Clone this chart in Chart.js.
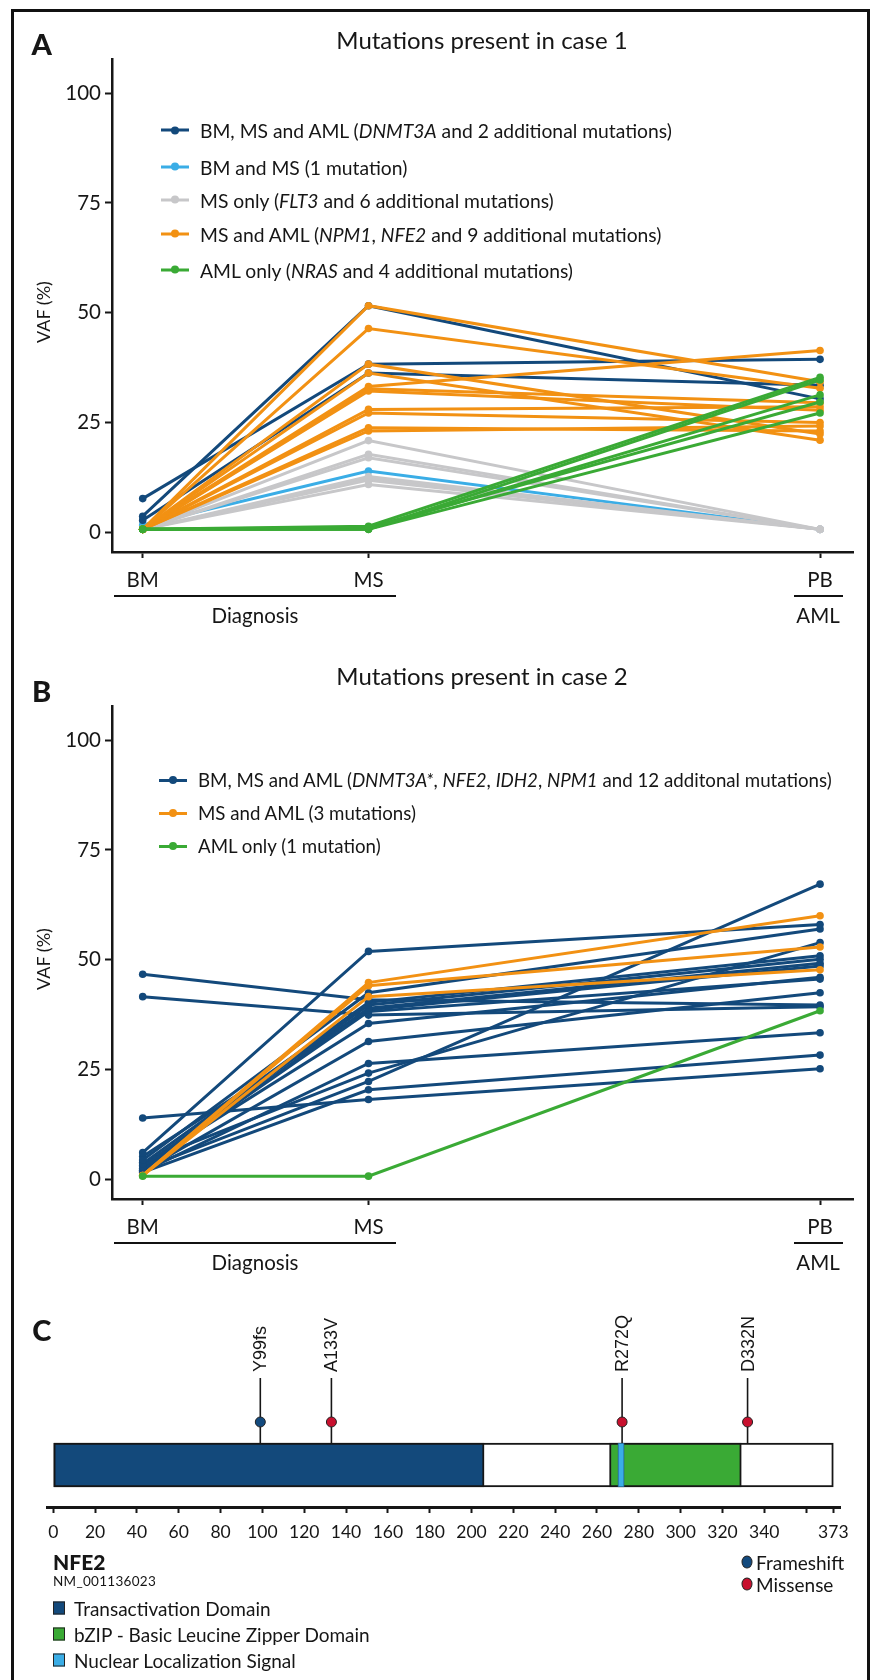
<!DOCTYPE html>
<html>
<head>
<meta charset="utf-8">
<script src="https://cdn.jsdelivr.net/npm/chart.js@4.4.1/dist/chart.umd.min.js"></script>
<style>
  body { margin: 0; background: #fff; }
  #page { position: relative; width: 871px; height: 1680px; overflow: hidden; font-family: Lato, "Noto Sans", sans-serif; color: #161616; }
  #frame { position: absolute; left: 11px; top: 9px; width: 853px; height: 1700px; border: 3px solid #111; }
  canvas { position: absolute; left: 0; }
  .t { position: absolute; white-space: nowrap; transform: translate(-50%, -50%); }
  .l { position: absolute; white-space: nowrap; transform: translateY(-50%); }
  .letter { font-weight: 900; font-size: 29px; }
  .title { font-size: 24px; }
  .vaf { font-size: 18px; transform: translate(-50%, -50%) rotate(-90deg); }
  .under { position: absolute; height: 1.6px; background: #111; }
  .axl { font-size: 20.5px; }
  .leg { position: absolute; display: flex; align-items: center; white-space: nowrap; transform: translateY(-50%); }
  .mk { position: relative; display: inline-block; width: 28px; height: 3px; margin-right: 11px; }
  .mk::after { content: ""; position: absolute; left: 10px; top: -2.5px; width: 8px; height: 8px; border-radius: 50%; background: inherit; }
  .sq { position: absolute; width: 10px; height: 11px; border: 1px solid #222; transform: translateY(-50%); }
  .dot { position: absolute; width: 9px; height: 11px; border-radius: 50%; border: 1px solid #222; transform: translate(-50%, -50%); }
</style>
</head>
<body>
<div id="page">
  <div id="frame"></div>
  <canvas id="chartA" width="871" height="647" style="top:0"></canvas>
  <canvas id="chartB" width="871" height="647" style="top:647px"></canvas>
  <canvas id="chartC" width="871" height="393" style="top:1287px"></canvas>
  <div id="overlay"></div>
</div>
<script>
// time points: BM and MS at diagnosis, PB at AML
const stageX = [0, 1, 3];
const stageLabels = ['BM', 'MS', 'PB'];
const vafTicks = [0, 25, 50, 75, 100];

// case 1, VAF (%) per mutation as [BM, MS, PB]
const case1BmMsAml = [[3.7, 51.6, 30.4], [7.7, 38.3, 39.4], [2.8, 36.3, 33.5]];
const case1BmMs = [[1.7, 14.0, 0.7]];
const case1MsOnly = [[0.7, 20.9, 0.7], [0.7, 17.8, 0.7], [0.7, 17.0, 0.7], [0.7, 12.7, 0.7],
                     [0.7, 12.2, 0.7], [0.7, 11.9, 0.7], [0.7, 10.9, 0.7]];
const case1MsAml = [[0.7, 51.6, 34.3], [0.7, 46.4, 32.8], [0.7, 38.3, 22.4], [0.7, 36.3, 21.0],
                    [0.7, 33.2, 41.4], [0.7, 32.7, 29.5], [0.7, 32.2, 27.8], [0.7, 28.0, 28.6],
                    [0.7, 27.2, 25.0], [0.7, 23.8, 23.1], [0.7, 23.1, 24.2]];
const case1AmlOnly = [[0.7, 1.4, 35.3], [0.7, 0.7, 34.7], [0.7, 0.8, 31.3], [0.7, 1.1, 29.7], [0.7, 0.7, 27.2]];
const case1Legend = [
  'BM, MS and AML (<i>DNMT3A</i> and 2 additional mutations)',
  'BM and MS (1 mutation)',
  'MS only (<i>FLT3</i> and 6 additional mutations)',
  'MS and AML (<i>NPM1</i>, <i>NFE2</i> and 9 additional mutations)',
  'AML only (<i>NRAS</i> and 4 additional mutations)'
];

// case 2, VAF (%) per mutation as [BM, MS, PB]
const case2BmMsAml = [[6.1, 51.9, 58.0], [4.4, 42.5, 57.0], [46.7, 40.9, 39.7], [3.6, 40.3, 50.9],
                      [2.9, 39.7, 50.1], [2.1, 39.0, 49.2], [5.2, 38.6, 48.6], [2.5, 38.2, 45.6],
                      [41.6, 37.4, 39.3], [3.2, 35.5, 46.0], [2.0, 31.4, 42.5], [1.8, 26.4, 33.4],
                      [3.9, 24.2, 53.9], [2.4, 22.3, 67.2], [1.6, 20.4, 28.3], [14.0, 18.2, 25.2]];
const case2MsAml = [[0.9, 44.8, 60.0], [0.9, 44.1, 52.9], [0.9, 41.6, 47.7]];
const case2AmlOnly = [[0.75, 0.75, 38.4]];
const case2Legend = [
  'BM, MS and AML (<i>DNMT3A*</i>, <i>NFE2</i>, <i>IDH2</i>, <i>NPM1</i> and 12 additonal mutations)',
  'MS and AML (3 mutations)',
  'AML only (1 mutation)'
];

// NFE2 protein (NM_001136023)
const proteinLength = 373;
const domainNames = ['Transactivation Domain', 'bZIP - Basic Leucine Zipper Domain', 'Nuclear Localization Signal'];
const domainStart = [0, 266, 270];
const domainEnd = [206, 329, 273];
const mutationNames = ['Y99fs', 'A133V', 'R272Q', 'D332N'];
const mutationPos = [99, 133, 272, 332];
const mutationKind = ['Frameshift', 'Missense', 'Missense', 'Missense'];
const kindNames = ['Frameshift', 'Missense'];
const residueTicks = [0, 20, 40, 60, 80, 100, 120, 140, 160, 180, 200, 220, 240, 260, 280, 300, 320, 340, 360, 373];

const DARK = '#13497b', LIGHT = '#3aade6', GREY = '#c7c7c9', ORANGE = '#f29113', GREEN = '#3aaa35';
const INK = '#161616';
const domainColors = [DARK, GREEN, LIGHT];
const kindColors = { Frameshift: '#134a7e', Missense: '#c8102e' };

Chart.defaults.font.family = 'Lato';
Chart.defaults.color = INK;
Chart.defaults.animation = false;

function lines(rows, color) {
  return rows.map(r => ({
    data: r.map((v, i) => ({ x: stageX[i], y: v })),
    borderColor: color,
    backgroundColor: color,
    pointBackgroundColor: color,
    pointBorderWidth: 0,
    pointRadius: 3.8,
    borderWidth: 3,
    tension: 0
  }));
}

function vafChart(id, datasets) {
  const H = 647;
  return new Chart(document.getElementById(id), {
    type: 'line',
    data: { datasets: datasets },
    options: {
      responsive: false,
      devicePixelRatio: 1,
      layout: { padding: { top: 59, right: 18, left: 0, bottom: 0 } },
      plugins: { legend: { display: false }, tooltip: { enabled: false } },
      scales: {
        x: {
          type: 'linear', min: -0.136, max: 3.146,
          afterBuildTicks: s => { s.ticks = stageX.map(v => ({ value: v })); },
          afterFit: s => { s.height = H - 552; },
          ticks: { callback: v => stageLabels[stageX.indexOf(v)], font: { size: 20.5 }, color: INK, padding: 10, autoSkip: false, maxRotation: 0 },
          grid: { drawOnChartArea: false, drawTicks: true, tickLength: 6, tickColor: INK, tickWidth: 2 },
          border: { display: true, color: INK, width: 2.5 }
        },
        y: {
          type: 'linear', min: -4.45, max: 107.75,
          afterBuildTicks: s => { s.ticks = vafTicks.map(v => ({ value: v })); },
          afterFit: s => { s.width = 112; },
          ticks: { font: { size: 20.5 }, color: INK, padding: 4 },
          grid: { drawOnChartArea: false, drawTicks: true, tickLength: 7, tickColor: INK, tickWidth: 2 },
          border: { display: true, color: INK, width: 2.5 }
        }
      }
    }
  });
}

vafChart('chartA', [].concat(
  lines(case1AmlOnly, GREEN), lines(case1MsAml, ORANGE), lines(case1BmMsAml, DARK),
  lines(case1MsOnly, GREY), lines(case1BmMs, LIGHT)));

vafChart('chartB', [].concat(
  lines(case2AmlOnly, GREEN), lines(case2MsAml, ORANGE), lines(case2BmMsAml, DARK)));

// panel C: protein map with lollipops
const BAR_Y = 2.1, BAR_HALF = 1.1, DOT_Y = 4.25, STEM_TOP = 6.45, LABEL_Y = 6.75;
const cSets = [];
kindNames.forEach(k => {
  cSets.push({
    type: 'scatter', indexAxis: 'x', order: 0,
    data: mutationPos.filter((p, i) => mutationKind[i] === k).map(p => ({ x: p, y: DOT_Y })),
    pointRadius: 5, pointBackgroundColor: kindColors[k], pointBorderColor: '#222', pointBorderWidth: 1
  });
});
mutationPos.forEach(p => {
  cSets.push({
    type: 'line', indexAxis: 'x', order: 1,
    data: [{ x: p, y: BAR_Y + BAR_HALF }, { x: p, y: STEM_TOP }],
    borderColor: INK, borderWidth: 1.6, pointRadius: 0
  });
});
domainNames.forEach((n, i) => {
  cSets.push({
    type: 'bar', indexAxis: 'y', order: 2 + (i === 2 ? 0 : 1), grouped: false,
    data: [{ y: BAR_Y, x: [domainStart[i], domainEnd[i]] }],
    backgroundColor: domainColors[i], borderColor: i === 2 ? '#235f8c' : INK,
    borderWidth: i === 2 ? 1 : 2, borderSkipped: false, barThickness: 44
  });
});
cSets.push({
  type: 'bar', indexAxis: 'y', order: 5, grouped: false,
  data: [{ y: BAR_Y, x: [0, proteinLength] }],
  backgroundColor: '#fff', borderColor: INK, borderWidth: 2, borderSkipped: false, barThickness: 44
});

const mutationText = {
  id: 'mutationText',
  afterDatasetsDraw(chart) {
    const ctx = chart.ctx, sx = chart.scales.x, sy = chart.scales.y;
    ctx.save();
    ctx.font = '18px "Liberation Sans", Arial, sans-serif';
    ctx.fillStyle = INK;
    ctx.textAlign = 'left';
    ctx.textBaseline = 'middle';
    mutationNames.forEach((n, i) => {
      ctx.save();
      ctx.translate(sx.getPixelForValue(mutationPos[i]), sy.getPixelForValue(LABEL_Y));
      ctx.rotate(-Math.PI / 2);
      ctx.fillText(n, 0, 1);
      ctx.restore();
    });
    ctx.restore();
  }
};

new Chart(document.getElementById('chartC'), {
  type: 'bar',
  data: { datasets: cSets },
  plugins: [mutationText],
  options: {
    responsive: false,
    devicePixelRatio: 1,
    layout: { padding: { top: 20, right: 31, left: 47, bottom: 0 } },
    plugins: { legend: { display: false }, tooltip: { enabled: false } },
    scales: {
      x: {
        type: 'linear', min: -3, max: 376.2, offset: false,
        afterBuildTicks: s => { s.ticks = residueTicks.map(v => ({ value: v })); },
        afterFit: s => { s.height = 393 - 220; },
        ticks: { callback: v => (v === 360 ? '' : String(v)), font: { size: 17.5 }, color: INK, padding: 9, autoSkip: false, maxRotation: 0 },
        grid: { offset: false, drawOnChartArea: false, drawTicks: true, tickLength: 6, tickColor: INK, tickWidth: 2 },
        border: { display: true, color: INK, width: 3 }
      },
      y: { type: 'linear', min: 0, max: 10, offset: false, display: false }
    }
  }
});

// text overlays
const ov = document.getElementById('overlay');
function add(html, cls, x, y, style) {
  const d = document.createElement('div');
  d.className = cls;
  d.innerHTML = html;
  d.style.left = x + 'px';
  d.style.top = y + 'px';
  if (style) d.style.cssText += style;
  ov.appendChild(d);
  return d;
}
function legend(items, colors, x0, size, ys) {
  items.forEach((txt, i) => {
    add('<span class="mk" style="background:' + colors[i] + '"></span><span style="font-size:' + size + 'px">' + txt + '</span>',
      'leg', x0, ys[i]);
  });
}
function panelFrame(letter, title, dy, titleY) {
  add(letter, 't letter', 41.7, 43 + dy);
  add(title, 't title', 482, titleY);
  add('VAF (%)', 't vaf', 43, 312 + dy);
  add('', 'under', 114, 595 + dy, 'width:282px');
  add('Diagnosis', 't axl', 255, 615 + dy);
  add('', 'under', 794, 595 + dy, 'width:49px');
  add('AML', 't axl', 818, 615 + dy);
}
panelFrame('A', 'Mutations present in case 1', 0, 38.5);
legend(case1Legend, [DARK, LIGHT, GREY, ORANGE, GREEN], 161, 19.3, [130, 166.7, 199.5, 233.5, 269.5]);
panelFrame('B', 'Mutations present in case 2', 647, 675);
legend(case2Legend, [DARK, ORANGE, GREEN], 159, 18.7, [780, 813, 846]);

add('C', 't letter', 41.7, 1329);
add('NFE2', 'l', 53, 1561, 'font-weight:900;font-size:21px');
add('NM_001136023', 'l', 53, 1581, 'font-size:13.5px;letter-spacing:0.3px');
const legendYs = [1608, 1634, 1660];
domainNames.forEach((n, i) => {
  add('', 'sq', 53, legendYs[i], 'background:' + domainColors[i]);
  add(n, 'l', 74, legendYs[i], 'font-size:19px');
});
kindNames.forEach((k, i) => {
  add('', 'dot', 747, 1562 + i * 21.5, 'background:' + kindColors[k]);
  add(k, 'l', 756, 1562 + i * 21.5, 'font-size:19px');
});
</script>
</body>
</html>
